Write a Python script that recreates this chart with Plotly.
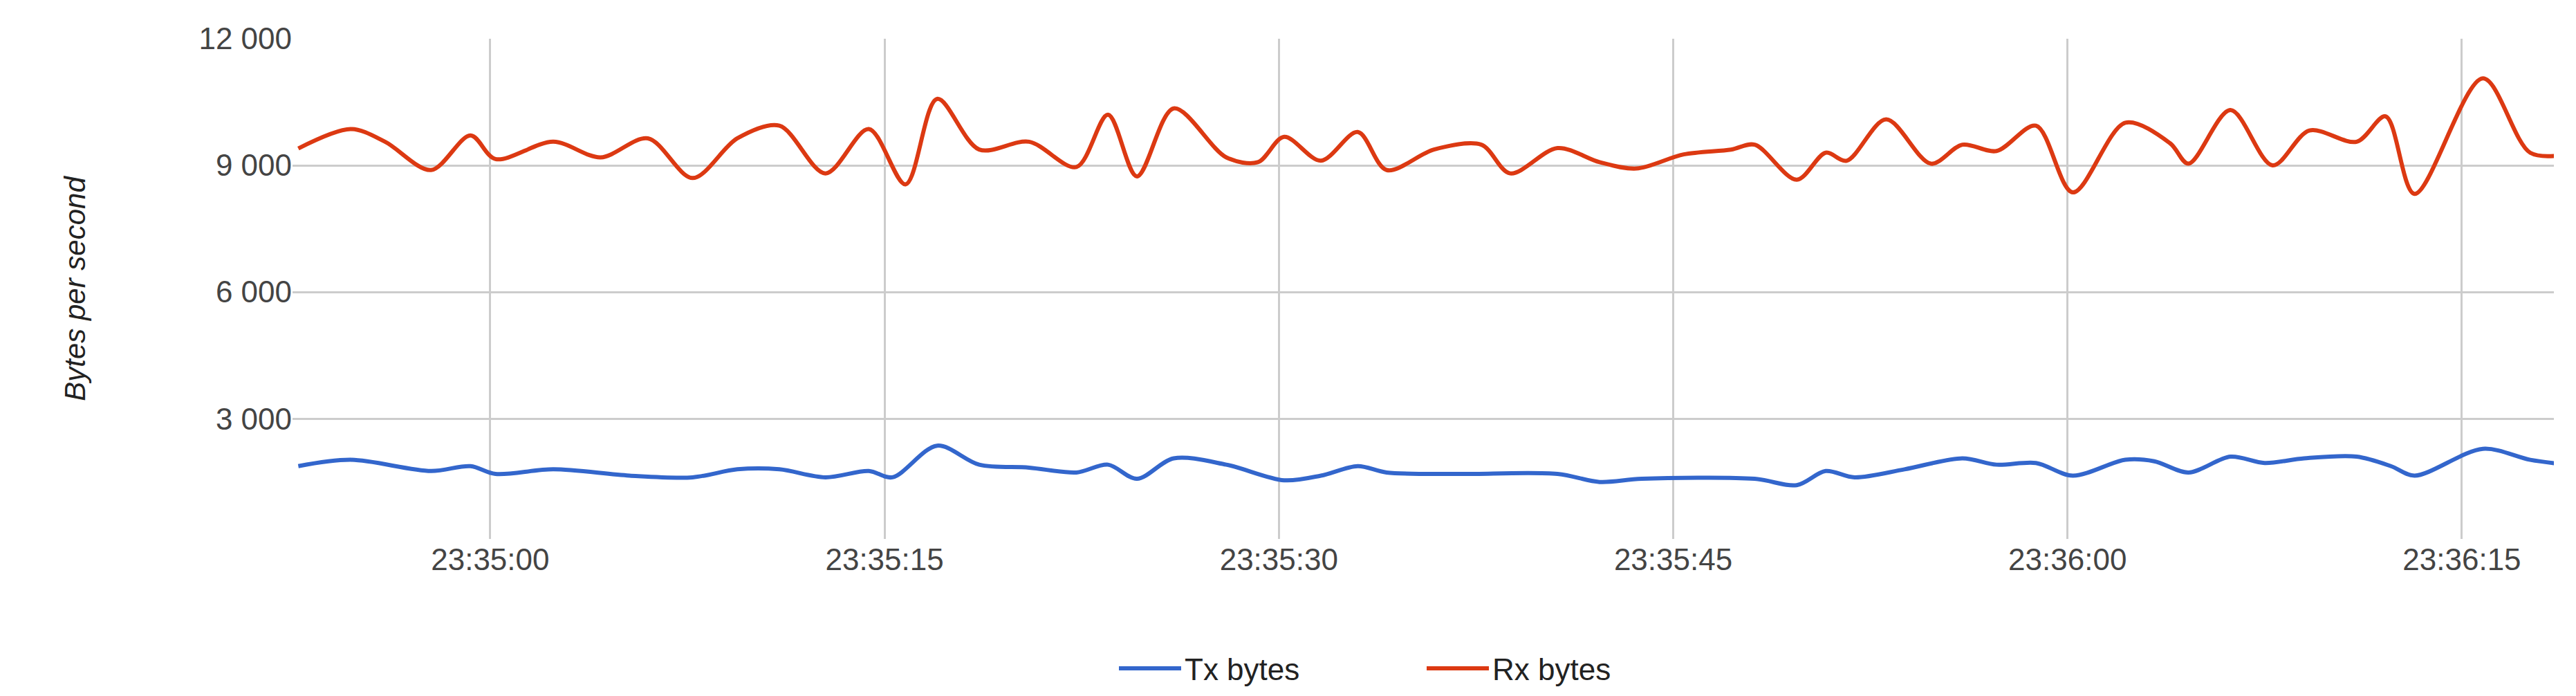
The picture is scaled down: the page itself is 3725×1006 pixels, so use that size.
import plotly.graph_objects as go
import pandas as pd

base = pd.Timestamp("2024-01-01 23:34:00")

rx_sec = [52.7,54.7,56,57.75,59.25,60.2,62.4,64.2,66,67.7,69.4,71,72.75,74.4,75.8,77,78.6,80.5,82.3,83.5,84.6,86,88,89.2,90.2,91.6,93,94.1,95.9,97.7,98.8,100.6,102.2,103.6,105.4,107.2,108.1,109.7,110.8,111.6,113.1,114.8,116,117.3,118.8,120.2,122.2,123.9,124.6,126.2,127.8,129.2,131,132.1,133.2,135.8,137.6,139]
rx_val = [9400,9860,9560,8890,9710,9150,9560,9190,9640,8700,9640,9940,8810,9860,8550,10575,9375,9560,8960,10200,8740,10350,9190,9075,9675,9110,9790,8890,9375,9490,8810,9410,9075,8925,9260,9375,9490,8660,9300,9110,10090,9040,9490,9340,9940,8360,10010,9525,9040,10310,9000,9825,9560,10160,8325,11060,9300,9260]

tx_sec = [52.7,54.7,57.75,59.25,60.2,62.4,65.3,67.7,69.4,71,72.75,74.4,75.3,77,78.6,80.5,82.3,83.5,84.6,86,88,90.2,91.6,93,94.1,96.8,100.6,102.2,103.8,108.1,109.7,110.8,111.9,113.8,116,117.3,118.8,120.2,122.2,123.3,124.6,126.2,127.5,129,131,132.3,133.2,135.8,137.6,139]
tx_val = [1875,2025,1760,1875,1690,1800,1650,1610,1800,1800,1610,1760,1610,2360,1910,1840,1725,1910,1575,2060,1910,1540,1650,1875,1725,1690,1690,1500,1575,1575,1425,1760,1610,1800,2060,1910,1950,1650,2025,1990,1725,2100,1950,2060,2100,1875,1650,2285,2025,1910]

y_ticks = [3000, 6000, 9000, 12000]
y_tick_text = ["3 000", "6 000", "9 000", "12 000"]

def to_time(secs):
    return [base + pd.Timedelta(seconds=s) for s in secs]

font = "Liberation Sans, Arial, sans-serif"
fig = go.Figure()
fig.add_trace(go.Scatter(x=to_time(tx_sec), y=tx_val, mode="lines", name="Tx bytes",
                         line=dict(color="#3366cc", width=6, shape="spline", smoothing=0.9)))
fig.add_trace(go.Scatter(x=to_time(rx_sec), y=rx_val, mode="lines", name="Rx bytes",
                         line=dict(color="#dc3912", width=6, shape="spline", smoothing=0.9)))

fig.update_layout(
    width=3725, height=1006,
    margin=dict(l=415, r=40, t=48, b=200),
    plot_bgcolor="white", paper_bgcolor="white",
    font=dict(family=font, size=44, color="#444444"),
    showlegend=True,
    legend=dict(orientation="h", x=0.5, xanchor="center", y=-0.21, yanchor="top",
                font=dict(size=44, color="#222222"), entrywidth=340, itemwidth=90),
    xaxis=dict(range=[base + pd.Timedelta(seconds=52.48), base + pd.Timedelta(seconds=138.5)],
               tickformat="%H:%M:%S", dtick=15000, tick0=base + pd.Timedelta(seconds=60),
               showgrid=True, gridcolor="#cccccc", gridwidth=3, zeroline=False,
               showline=False, ticks="", tickfont=dict(size=44, color="#444444")),
    yaxis=dict(range=[150, 12000], tickvals=y_ticks, ticktext=y_tick_text,
               showgrid=True, gridcolor="#cccccc", gridwidth=3, zeroline=False,
               showline=False, ticks="", tickfont=dict(size=44, color="#444444"),
               title=dict(text="<i>Bytes per second</i>", font=dict(size=42, color="#222222"), standoff=150)),
)
fig.write_html("out.html")
